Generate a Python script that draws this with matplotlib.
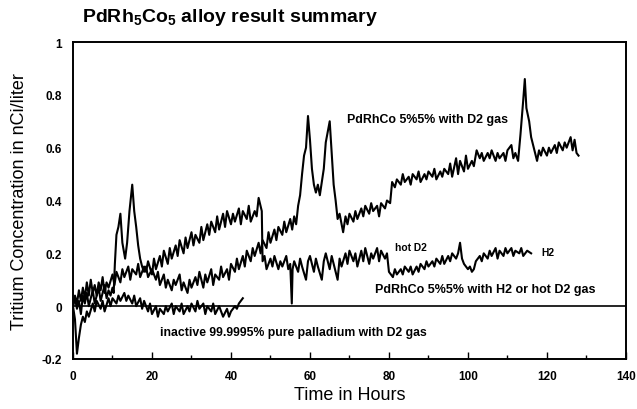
import numpy as np
import matplotlib
matplotlib.use('Agg')
import matplotlib.pyplot as plt
from matplotlib.ticker import MultipleLocator, FixedLocator

plt.rcParams['font.family'] = ['Liberation Sans', 'DejaVu Sans']
plt.rcParams['mathtext.fontset'] = 'custom'
plt.rcParams['mathtext.rm'] = 'Liberation Sans'
plt.rcParams['mathtext.bf'] = 'Liberation Sans:bold'

# PdRhCo 5%5% with D2 gas  (hours, nCi/liter)
d2_gas = [
    (0, 0.00), (0.5, 0.03), (1, -0.01), (1.5, 0.02), (2, -0.03), (2.5, 0.04), (3, 0.01),
    (3.5, 0.05), (4, 0.00), (4.5, 0.03), (5, 0.06), (5.5, 0.01), (6, 0.04), (6.5, 0.07),
    (7, 0.02), (7.5, 0.05), (8, 0.08), (8.5, 0.03), (9, 0.06), (9.5, 0.04), (10, 0.07),
    (10.3, 0.05), (10.6, 0.16), (11, 0.27), (11.5, 0.30), (12, 0.35), (12.5, 0.24),
    (13.2, 0.18), (13.7, 0.24), (14.3, 0.36), (15, 0.46), (15.5, 0.36), (16, 0.30),
    (16.5, 0.23), (17, 0.18), (17.5, 0.15), (18, 0.13), (18.5, 0.15), (19, 0.11),
    (20, 0.14), (21, 0.10), (21.5, 0.13), (22, 0.08), (23, 0.12), (23.5, 0.07),
    (24, 0.10), (25, 0.06), (25.5, 0.10), (26, 0.08), (27, 0.12), (27.5, 0.06),
    (28, 0.09), (29, 0.05), (29.5, 0.10), (30, 0.07), (31, 0.11), (31.5, 0.08),
    (32, 0.13), (33, 0.07), (33.5, 0.12), (34, 0.09), (35, 0.14), (35.5, 0.08),
    (36, 0.12), (37, 0.10), (37.5, 0.15), (38, 0.11), (39, 0.14), (39.5, 0.10),
    (40, 0.16), (41, 0.13), (41.5, 0.18), (42, 0.14), (43, 0.19), (43.5, 0.15),
    (44, 0.21), (45, 0.17), (45.5, 0.22), (46, 0.19), (47, 0.24), (47.5, 0.20),
    (48, 0.25), (49, 0.22), (49.5, 0.28), (50, 0.24), (51, 0.29), (51.5, 0.25),
    (52, 0.30), (53, 0.27), (53.5, 0.32), (54, 0.28), (55, 0.33), (55.5, 0.29),
    (56, 0.34), (56.5, 0.31), (57, 0.38), (57.5, 0.42), (58, 0.50), (58.5, 0.57),
    (59, 0.60), (59.5, 0.72), (60, 0.63), (60.5, 0.52), (61, 0.46), (61.5, 0.43),
    (62, 0.46), (62.5, 0.42), (63, 0.47), (63.5, 0.52), (64, 0.62), (64.5, 0.66),
    (65, 0.70), (65.5, 0.58), (66, 0.46), (66.5, 0.40), (67, 0.33), (67.5, 0.35),
    (68.4, 0.28), (69, 0.34), (69.5, 0.31), (70, 0.35), (71, 0.32), (71.5, 0.36),
    (72, 0.33), (73, 0.37), (73.5, 0.34), (74, 0.38), (75, 0.35), (75.5, 0.39),
    (76, 0.36), (77, 0.38), (77.5, 0.34), (78, 0.39), (79, 0.37), (79.5, 0.40),
    (80.3, 0.39), (80.8, 0.47), (81.5, 0.45), (82, 0.48), (83, 0.46), (83.5, 0.50),
    (84, 0.47), (85, 0.49), (85.5, 0.46), (86, 0.50), (87, 0.48), (87.5, 0.51),
    (88, 0.47), (89, 0.50), (89.5, 0.48), (90, 0.51), (91, 0.49), (91.5, 0.52),
    (92, 0.48), (93, 0.51), (93.5, 0.49), (94, 0.52), (95, 0.50), (95.5, 0.54),
    (96, 0.49), (97, 0.56), (97.5, 0.50), (98, 0.55), (99, 0.51), (99.5, 0.57),
    (100, 0.52), (101, 0.55), (101.5, 0.53), (102.2, 0.59), (103, 0.56), (103.5, 0.58),
    (104, 0.55), (105, 0.58), (105.5, 0.56), (106, 0.59), (107, 0.55), (107.5, 0.58),
    (108, 0.56), (109, 0.58), (109.5, 0.55), (110, 0.59), (111, 0.61), (111.5, 0.56),
    (112, 0.58), (112.7, 0.55), (113.3, 0.65), (114, 0.78), (114.4, 0.86), (114.8, 0.75),
    (115.5, 0.70), (116, 0.64), (117, 0.58), (117.5, 0.55), (118, 0.59), (118.5, 0.57),
    (119, 0.60), (120, 0.57), (120.5, 0.60), (121, 0.58), (122, 0.61), (122.5, 0.58),
    (123, 0.62), (124, 0.59), (124.5, 0.62), (125, 0.60), (126, 0.64), (126.5, 0.59),
    (127, 0.63), (127.5, 0.58), (128, 0.57),
]

# PdRhCo 5%5% with H2 or hot D2 gas
h2_hot_d2 = [
    (0, 0.00), (0.5, 0.04), (1, 0.01), (1.5, 0.06), (2, 0.02), (2.5, 0.07), (3, 0.03),
    (3.5, 0.09), (4, 0.04), (4.5, 0.10), (5, 0.05), (5.5, 0.08), (6, 0.04), (6.5, 0.09),
    (7, 0.06), (7.5, 0.11), (8, 0.05), (8.5, 0.09), (9, 0.07), (10, 0.12), (10.5, 0.08),
    (11, 0.13), (12, 0.09), (12.5, 0.14), (13, 0.11), (14, 0.15), (14.5, 0.10),
    (15, 0.14), (16, 0.12), (16.5, 0.16), (17, 0.11), (18, 0.15), (18.5, 0.13),
    (19, 0.17), (20, 0.12), (20.5, 0.18), (21, 0.14), (22, 0.19), (22.5, 0.15),
    (23, 0.21), (24, 0.16), (24.5, 0.22), (25, 0.18), (26, 0.23), (26.5, 0.19),
    (27, 0.25), (28, 0.20), (28.5, 0.26), (29, 0.22), (30, 0.28), (30.5, 0.23),
    (31, 0.27), (32, 0.24), (32.5, 0.30), (33, 0.25), (34, 0.31), (34.5, 0.27),
    (35, 0.32), (36, 0.28), (36.5, 0.34), (37, 0.29), (38, 0.35), (38.5, 0.30),
    (39, 0.36), (40, 0.31), (40.5, 0.35), (41, 0.32), (42, 0.37), (42.5, 0.31),
    (43, 0.36), (44, 0.33), (44.5, 0.38), (45, 0.32), (46, 0.36), (46.5, 0.34),
    (47, 0.41), (47.8, 0.36), (48, 0.17), (48.5, 0.19), (49, 0.14), (50, 0.18),
    (50.5, 0.15), (51, 0.19), (52, 0.14), (52.5, 0.17), (53, 0.15), (54, 0.19),
    (54.5, 0.14), (55, 0.16), (55.4, 0.01), (55.6, 0.14), (56, 0.17), (57, 0.13),
    (57.5, 0.18), (58, 0.15), (59, 0.10), (59.5, 0.17), (60, 0.19), (61, 0.13),
    (61.5, 0.18), (62, 0.15), (63, 0.10), (63.5, 0.17), (64, 0.20), (65, 0.14),
    (65.5, 0.19), (66, 0.16), (67, 0.10), (67.5, 0.18), (68, 0.15), (69, 0.20),
    (69.5, 0.16), (70, 0.21), (71, 0.17), (71.5, 0.20), (72, 0.15), (73, 0.21),
    (73.5, 0.17), (74, 0.22), (75, 0.16), (75.5, 0.20), (76, 0.18), (77, 0.22),
    (77.5, 0.17), (78, 0.21), (79, 0.18), (79.5, 0.20), (80, 0.13), (81, 0.11),
    (81.5, 0.14), (82, 0.12), (83, 0.14), (83.5, 0.12), (84, 0.15), (85, 0.13),
    (85.5, 0.15), (86, 0.12), (87, 0.15), (87.5, 0.13), (88, 0.16), (89, 0.14),
    (89.5, 0.17), (90, 0.15), (91, 0.17), (91.5, 0.15), (92, 0.18), (93, 0.16),
    (93.5, 0.19), (94, 0.16), (95, 0.19), (95.5, 0.17), (96, 0.20), (97, 0.18),
    (97.5, 0.20), (98, 0.24), (98.5, 0.18), (99, 0.16), (100, 0.14), (100.5, 0.15),
    (101, 0.13), (101.5, 0.14), (102, 0.17), (103, 0.19), (103.5, 0.17), (104, 0.20),
    (105, 0.18), (105.5, 0.21), (106, 0.19), (107, 0.22), (107.5, 0.18), (108, 0.21),
    (109, 0.19), (109.5, 0.22), (110, 0.20), (111, 0.22), (111.5, 0.19), (112, 0.21),
    (113, 0.20), (113.5, 0.22), (114, 0.19), (115, 0.21), (116, 0.20),
]

# inactive 99.9995% pure palladium with D2 gas
pure_pd = [
    (0, 0.00), (0.5, -0.05), (1, -0.18), (1.5, -0.12), (2, -0.07), (2.5, -0.04),
    (3, -0.06), (3.5, -0.02), (4, -0.04), (5, 0.01), (5.5, -0.02), (6, 0.02),
    (7, -0.01), (7.5, 0.02), (8, -0.02), (9, 0.03), (9.5, 0.00), (10, 0.03),
    (11, 0.01), (11.5, 0.04), (12, 0.02), (13, 0.05), (13.5, 0.02), (14, 0.04),
    (15, 0.01), (15.5, 0.04), (16, 0.00), (17, 0.03), (17.5, -0.01), (18, 0.02),
    (19, -0.02), (19.5, 0.01), (20, -0.03), (21, 0.00), (21.5, -0.04), (22, -0.01),
    (23, -0.03), (23.5, 0.00), (24, -0.02), (25, 0.01), (25.5, -0.03), (26, 0.00),
    (27, -0.02), (27.5, 0.01), (28, -0.03), (29, 0.00), (29.5, -0.02), (30, 0.01),
    (31, -0.02), (31.5, 0.02), (32, -0.01), (33, 0.01), (33.5, -0.03), (34, 0.00),
    (35, -0.02), (35.5, 0.01), (36, -0.03), (37, 0.00), (37.5, -0.02), (38, -0.04),
    (39, -0.01), (39.5, -0.04), (40, -0.02), (41, 0.00), (41.5, -0.01), (42, 0.01),
    (43, 0.03),
]

yticks = [-0.2, 0, 0.2, 0.4, 0.6, 0.8, 1]
ytick_labels = ['-0.2', '0', '0.2', '0.4', '0.6', '0.8', '1']

fig = plt.figure(figsize=(6.37, 4.10), dpi=100)
ax = fig.add_axes([0.1146, 0.122, 0.868, 0.773])

for series in (d2_gas, h2_hot_d2, pure_pd):
    t, y = zip(*series)
    ax.plot(t, y, color='k', linewidth=1.5)
ax.axhline(0, color='k', linewidth=1.2)

ax.set_xlim(0, 140)
ax.set_ylim(-0.2, 1)
ax.xaxis.set_major_locator(MultipleLocator(20))
ax.xaxis.set_minor_locator(MultipleLocator(10))
ax.yaxis.set_major_locator(FixedLocator(yticks))
ax.set_yticklabels(ytick_labels)
ax.tick_params(axis='x', direction='in', length=5, width=1, pad=8, labelsize=8.5)
ax.tick_params(axis='x', which='minor', direction='in', length=3, width=1)
ax.tick_params(axis='y', length=0, pad=8, labelsize=8.5)
for lab in ax.get_xticklabels() + ax.get_yticklabels():
    lab.set_fontweight('bold')
for s in ax.spines.values():
    s.set_linewidth(1.4)

ax.set_xlabel('Time in Hours', fontsize=13, labelpad=3)
ax.set_ylabel('Tritium Concentration in nCi/liter', fontsize=13, labelpad=10)

fig.text(0.129, 0.958, 'PdRh$\\mathbf{_5}$Co$\\mathbf{_5}$ alloy result summary',
         fontsize=14, fontweight='bold', ha='left', va='center')

ax.text(69.4, 0.71, 'PdRhCo 5%5% with D2 gas', fontsize=8.9, fontweight='bold', va='center')
ax.text(81.5, 0.223, 'hot D2', fontsize=7.4, fontweight='bold', va='center')
ax.text(118.5, 0.205, 'H2', fontsize=7.4, fontweight='bold', va='center')
ax.text(76.5, 0.065, 'PdRhCo 5%5% with H2 or hot D2 gas', fontsize=9, fontweight='bold', va='center')
ax.text(22, -0.098, 'inactive 99.9995% pure palladium with D2 gas', fontsize=8.8,
        fontweight='bold', va='center')

fig.savefig('out.png', dpi=100)
